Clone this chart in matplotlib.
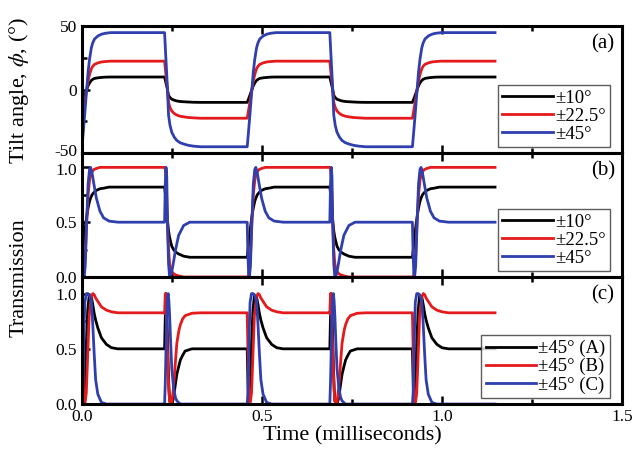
import matplotlib
matplotlib.use("Agg")
import matplotlib.pyplot as plt
import matplotlib.transforms as mtransforms
from matplotlib.ticker import MultipleLocator

plt.rcParams['font.family'] = ['Liberation Serif', 'DejaVu Serif']
plt.rcParams['mathtext.fontset'] = 'stix'
plt.rcParams['axes.unicode_minus'] = False

# switching instants (ms): each half cycle starts at one of these
switch_times = [0.0, 0.2295, 0.459, 0.6885, 0.918]

# ---- panel (a): tilt angle, rise / fall half cycles
a_rise_dt = [0, 0.004, 0.008, 0.013, 0.017, 0.021, 0.026, 0.03, 0.035, 0.045, 0.055, 0.065, 0.08, 0.1, 0.2295]
a_rise_10 = [-10, -7.1, -4, 0, 3.1, 5.3, 7.3, 8.2, 8.9, 9.4, 9.7, 9.9, 10, 10, 10]
a_rise_22 = [-22.5, -16, -9, 0, 7, 12, 16.5, 18.5, 20, 21.2, 21.9, 22.2, 22.5, 22.5, 22.5]
a_rise_45 = [-45, -32, -18, 0, 14, 24, 33, 37, 40, 42.5, 43.8, 44.5, 45, 45, 45]

a_fall_dt = [0, 0.003, 0.006, 0.008, 0.011, 0.015, 0.02, 0.027, 0.034, 0.043, 0.053, 0.065, 0.08, 0.1, 0.2295]
a_fall_10 = [10, 6.2, 2.7, 0, -4.4, -6.2, -7.5, -8.3, -8.9, -9.3, -9.5, -9.7, -9.9, -10, -10]
a_fall_22 = [22.5, 14, 6, 0, -10, -14, -16.8, -18.8, -20, -20.9, -21.4, -21.9, -22.2, -22.5, -22.5]
a_fall_45 = [45, 28, 12, 0, -20, -28, -33.6, -37.5, -40, -41.8, -42.8, -43.8, -44.5, -45, -45]

# ---- panel (b): transmission
b_rise_dt = [0, 0.002, 0.004, 0.006, 0.009, 0.013, 0.017, 0.021, 0.024, 0.028, 0.033, 0.04, 0.05, 0.06, 0.075, 0.1, 0.2295]
b_rise_10 = [0.18, 0.24, 0.3, 0.36, 0.45, 0.55, 0.63, 0.69, 0.72, 0.75, 0.77, 0.79, 0.805, 0.81, 0.82, 0.82, 0.82]
b_rise_22 = [0.0, 0.0, 0.02, 0.06, 0.18, 0.5, 0.75, 0.88, 0.93, 0.96, 0.98, 0.99, 1.0, 1.0, 1.0, 1.0, 1.0]
b_rise_45 = [0.5, 0.2, 0.03, 0.0, 0.1, 0.5, 0.85, 0.98, 1.0, 0.95, 0.85, 0.72, 0.6, 0.54, 0.51, 0.5, 0.5]

b_fall_dt = [0, 0.002, 0.004, 0.006, 0.008, 0.011, 0.014, 0.017, 0.02, 0.025, 0.03, 0.039, 0.053, 0.07, 0.09, 0.2295]
b_fall_10 = [0.82, 0.76, 0.68, 0.6, 0.52, 0.42, 0.36, 0.32, 0.28, 0.25, 0.23, 0.21, 0.19, 0.18, 0.18, 0.18]
b_fall_22 = [1.0, 0.98, 0.9, 0.72, 0.5, 0.25, 0.12, 0.07, 0.05, 0.03, 0.02, 0.01, 0.0, 0.0, 0.0, 0.0]
b_fall_45 = [0.5, 0.85, 1.0, 0.92, 0.5, 0.12, 0.0, 0.01, 0.05, 0.14, 0.24, 0.38, 0.47, 0.5, 0.5, 0.5]

# ---- panel (c): transmission, +/-45 deg in three configurations
c_rise_dt = [0, 0.002, 0.004, 0.006, 0.008, 0.012, 0.016, 0.02, 0.026, 0.03, 0.034, 0.038, 0.044, 0.054, 0.068, 0.082, 0.1, 0.2295]
c_rise_A = [0.5, 0.2, 0.0, 0.05, 0.2, 0.55, 0.85, 0.98, 0.97, 0.9, 0.82, 0.76, 0.69, 0.6, 0.54, 0.51, 0.5, 0.5]
c_rise_B = [0.82, 0.5, 0.15, 0.0, 0.0, 0.1, 0.45, 0.8, 0.97, 1.0, 0.99, 0.96, 0.93, 0.88, 0.85, 0.835, 0.826, 0.826]
c_rise_C = [0.0, 0.1, 0.35, 0.7, 0.92, 1.0, 1.0, 0.99, 0.93, 0.72, 0.45, 0.22, 0.09, 0.015, 0.0, 0.0, 0.0, 0.0]

c_fall_dt = [0, 0.002, 0.004, 0.006, 0.008, 0.01, 0.012, 0.014, 0.017, 0.02, 0.025, 0.03, 0.034, 0.04, 0.044, 0.05, 0.057, 0.076, 0.1, 0.2295]
c_fall_A = [0.5, 0.8, 1.0, 0.85, 0.6, 0.35, 0.15, 0.03, 0.0, 0.0, 0.06, 0.18, 0.27, 0.35, 0.4, 0.44, 0.48, 0.5, 0.5, 0.5]
c_fall_B = [0.82, 1.0, 0.9, 0.7, 0.48, 0.28, 0.12, 0.03, 0.0, 0.02, 0.15, 0.38, 0.55, 0.67, 0.72, 0.77, 0.8, 0.822, 0.826, 0.826]
c_fall_C = [0.0, 0.2, 0.5, 0.8, 0.97, 1.0, 0.93, 0.8, 0.55, 0.32, 0.15, 0.06, 0.03, 0.01, 0.0, 0.0, 0.0, 0.0, 0.0, 0.0]

labels_ab = ['\u00b110\u00b0', '\u00b122.5\u00b0', '\u00b145\u00b0']
labels_c = ['\u00b145\u00b0 (A)', '\u00b145\u00b0 (B)', '\u00b145\u00b0 (C)']
colors = ['#000000', '#e41a1c', '#2f3fae']


def build(rise_dt, rise, fall_dt, fall):
    # chain the rise/fall half cycles one after another
    t, y = [], []
    for k, start in enumerate(switch_times):
        dts, vals = (rise_dt, rise) if k % 2 == 0 else (fall_dt, fall)
        t += [start + d for d in dts]
        y += list(vals)
    return t, y


fig = plt.figure(figsize=(6.33, 4.53), dpi=100)
W = 0.853
ax_a = fig.add_axes([0.1295, 0.662, W, 0.280])
ax_b = fig.add_axes([0.1295, 0.3885, W, 0.2735])
ax_c = fig.add_axes([0.1295, 0.108, W, 0.2805])

panels = [
    (ax_a, a_rise_dt, [a_rise_10, a_rise_22, a_rise_45], a_fall_dt, [a_fall_10, a_fall_22, a_fall_45], labels_ab, '(a)'),
    (ax_b, b_rise_dt, [b_rise_10, b_rise_22, b_rise_45], b_fall_dt, [b_fall_10, b_fall_22, b_fall_45], labels_ab, '(b)'),
    (ax_c, c_rise_dt, [c_rise_A, c_rise_B, c_rise_C], c_fall_dt, [c_fall_A, c_fall_B, c_fall_C], labels_c, '(c)'),
]

for ax, rdt, rises, fdt, falls, labels, tag in panels:
    for rise, fall, col, lab in zip(rises, falls, colors, labels):
        t, y = build(rdt, rise, fdt, fall)
        ax.plot(t, y, color=col, lw=2.0, label=lab)
    ax.set_xlim(0, 1.5)
    ax.xaxis.set_major_locator(MultipleLocator(0.5))
    ax.xaxis.set_minor_locator(MultipleLocator(0.25))
    ax.tick_params(which='both', direction='in', top=True, right=False, labelsize=12.5, width=1.8)
    ax.tick_params(which='major', length=6)
    ax.tick_params(which='minor', length=3.5)
    for sp in ax.spines.values():
        sp.set_linewidth(2.2)
    ax.text(0.965, 0.86, tag, transform=ax.transAxes, ha='center', va='center', fontsize=15)
    leg = ax.legend(loc='lower right', bbox_to_anchor=(0.985, 0.015), fontsize=13.5, frameon=True,
                    fancybox=False, edgecolor='#333333', handlelength=2.7, handletextpad=0.1,
                    labelspacing=0.05, borderpad=0.25, borderaxespad=0.2)
    leg.get_frame().set_linewidth(1.0)

ax_a.set_ylim(-50, 50)
ax_a.yaxis.set_major_locator(MultipleLocator(50))
ax_a.yaxis.set_minor_locator(MultipleLocator(25))
for ax, top in [(ax_b, 1.13), (ax_c, 1.15)]:
    ax.set_ylim(0, top)
    ax.yaxis.set_major_locator(MultipleLocator(0.5))
    ax.yaxis.set_minor_locator(MultipleLocator(0.25))

ax_a.tick_params(labelbottom=False)
ax_b.tick_params(labelbottom=False)
ax_a.set_yticks([-50, 0, 50])
ax_b.set_yticks([0.0, 0.5, 1.0])
ax_b.set_yticklabels(['0.0', '0.5', '1.0'])
ax_c.set_yticks([0.0, 0.5, 1.0])
ax_c.set_yticklabels(['0.0', '0.5', '1.0'])
ax_c.set_xticks([0.0, 0.5, 1.0, 1.5])
ax_c.set_xticklabels(['0.0', '0.5', '1.0', '1.5'])

# keep the -50 label of (a) and the 1.0 label of (b) from touching
up = mtransforms.ScaledTranslation(0, 3 / 100, fig.dpi_scale_trans)
down = mtransforms.ScaledTranslation(0, -2 / 100, fig.dpi_scale_trans)
lab = ax_a.get_yticklabels()[0]
lab.set_transform(lab.get_transform() + up)
lab = ax_b.get_yticklabels()[-1]
lab.set_transform(lab.get_transform() + down)

ax_c.set_xlabel('Time (milliseconds)', fontsize=16, labelpad=1)
fig.text(0.03, 0.80, 'Tilt angle, $\\phi$, (\u00b0)', rotation=90, ha='center', va='center', fontsize=16)
fig.text(0.03, 0.388, 'Transmission', rotation=90, ha='center', va='center', fontsize=16)

fig.savefig('out.png', dpi=100)
